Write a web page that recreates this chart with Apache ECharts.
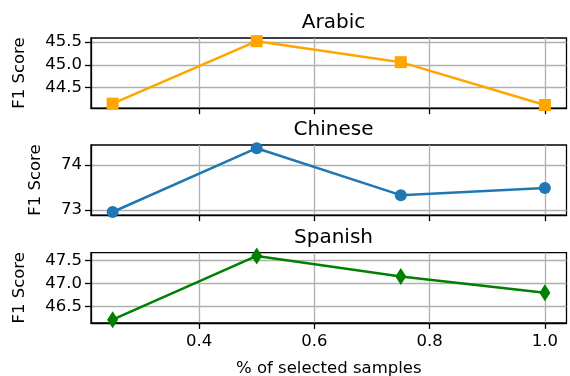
<!DOCTYPE html>
<html>
<head>
<meta charset="utf-8">
<script src="https://cdn.jsdelivr.net/npm/echarts@6/dist/echarts.min.js"></script>
<style>
  html, body { margin: 0; padding: 0; background: #fff; }
  #chart { width: 570px; height: 376px; }
</style>
</head>
<body>
<div id="chart"></div>
<script>
// Fraction of selected samples (shared x values)
const fractions = [0.25, 0.5, 0.75, 1.0];
const xTicks = [0.4, 0.6, 0.8, 1.0];

// F1 scores per language
const arabicScores = [44.15, 45.52, 45.06, 44.12];
const chineseScores = [72.955, 74.375, 73.33, 73.49];
const spanishScores = [46.22, 47.595, 47.153, 46.8];

// Y tick labels per panel
const arabicTicks = [44.5, 45.0, 45.5];
const chineseTicks = [73, 74];
const spanishTicks = [46.5, 47.0, 47.5];

const languages = ['Arabic', 'Chinese', 'Spanish'];

const FONT = 'DejaVu Sans';
const gridColor = '#b0b0b0';

// 5% padding around the data range
function padded(vals) {
  const lo = Math.min(...vals), hi = Math.max(...vals);
  const m = (hi - lo) * 0.05;
  return [lo - m, hi + m];
}

const panels = [
  { scores: arabicScores, ticks: arabicTicks, color: '#ffa500', symbol: 'rect', size: 12, nameGap: 63, fmt: v => v.toFixed(1) },
  { scores: chineseScores, ticks: chineseTicks, color: '#1f77b4', symbol: 'circle', size: 12, nameGap: 47, fmt: v => v.toFixed(0) },
  { scores: spanishScores, ticks: spanishTicks, color: '#008000', symbol: 'diamond', size: [11, 17], nameGap: 63, fmt: v => v.toFixed(1) }
];

const gridTops = [38, 145, 252.7];
const gridHeight = 70.2;
const xr = padded(fractions);

const option = {
  animation: false,
  backgroundColor: '#fff',
  title: languages.map((name, i) => ({
    text: name,
    left: 328.5,
    textAlign: 'center',
    top: gridTops[i] - 30,
    textStyle: { fontFamily: FONT, fontSize: 20, fontWeight: 'normal', color: '#000' }
  })),
  grid: gridTops.map(t => ({
    left: 91, right: 3.5, top: t, height: gridHeight,
    outerBoundsMode: 'none',
    show: true, borderColor: '#000', borderWidth: 1.3, backgroundColor: 'transparent'
  })),
  xAxis: panels.map((p, i) => ({
    type: 'value',
    gridIndex: i,
    min: xr[0], max: xr[1],
    name: i === 2 ? '% of selected samples' : '',
    nameLocation: 'middle',
    nameGap: 37,
    nameMoveOverlap: false,
    nameTextStyle: { fontFamily: FONT, fontSize: 16.5, color: '#000' },
    axisLine: { show: true, lineStyle: { color: '#000', width: 1.3 } },
    axisTick: { show: true, length: 6, lineStyle: { color: '#000', width: 1.3 }, customValues: xTicks },
    axisLabel: {
      show: i === 2, customValues: xTicks, margin: 10,
      fontFamily: FONT, fontSize: 16.5, color: '#000',
      formatter: v => Number(v).toFixed(1)
    },
    splitLine: { show: true, lineStyle: { color: gridColor, width: 1.3 } }
  })),
  yAxis: panels.map((p, i) => {
    const r = padded(p.scores);
    return {
      type: 'value',
      gridIndex: i,
      min: r[0], max: r[1],
      name: 'F1 Score',
      nameLocation: 'middle',
      nameGap: p.nameGap,
      nameMoveOverlap: false,
      nameTextStyle: { fontFamily: FONT, fontSize: 16.5, color: '#000' },
      axisLine: { show: true, lineStyle: { color: '#000', width: 1.3 } },
      axisTick: { show: true, length: 6, lineStyle: { color: '#000', width: 1.3 }, customValues: p.ticks },
      axisLabel: {
        customValues: p.ticks, margin: 9,
        fontFamily: FONT, fontSize: 16.5, color: '#000',
        formatter: v => p.fmt(Number(v))
      },
      splitLine: { show: true, lineStyle: { color: gridColor, width: 1.3 } }
    };
  }),
  series: panels.map((p, i) => ({
    type: 'line',
    name: languages[i],
    xAxisIndex: i,
    yAxisIndex: i,
    data: fractions.map((x, k) => [x, p.scores[k]]),
    symbol: p.symbol,
    symbolSize: p.size,
    showAllSymbol: true,
    clip: false,
    lineStyle: { color: p.color, width: 2.5 },
    itemStyle: { color: p.color, borderWidth: 0 }
  }))
};

const chart = echarts.init(document.getElementById('chart'), null, { renderer: 'canvas' });
chart.setOption(option);
</script>
</body>
</html>
